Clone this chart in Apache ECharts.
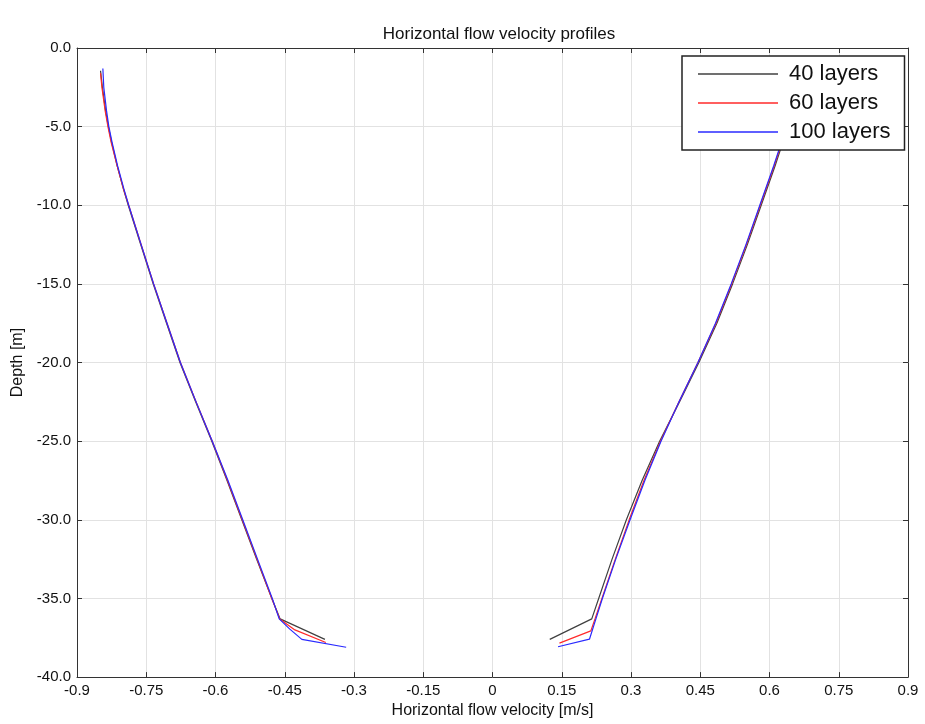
<!DOCTYPE html>
<html><head><meta charset="utf-8">
<script src="https://cdn.jsdelivr.net/npm/echarts@6/dist/echarts.min.js"></script>
<style>html,body{margin:0;padding:0;background:#fff}#c{width:925px;height:724px}</style>
</head><body><div id="c"></div>
<script>
const seriesNames = ['40 layers', '60 layers', '100 layers'];
const seriesColors = ['#404040', '#ff2a2a', '#2a2aff'];

// Left branch (negative velocity)
const depth40L = [-1.45, -2.5, -4, -5, -6, -7.5, -9, -10, -12.5, -15, -17.5, -20, -22.5, -25, -27.5, -30, -32.5, -35, -36.3, -37.6];
const vel40L   = [-0.849, -0.845, -0.838, -0.832, -0.825, -0.813, -0.799, -0.789, -0.762, -0.735, -0.706, -0.677, -0.643, -0.608, -0.575, -0.543, -0.511, -0.478, -0.460, -0.363];
const depth60L = [-1.6, -2.5, -4, -5, -6, -7.5, -9, -10, -12.5, -15, -17.5, -20, -22.5, -25, -27.5, -30, -32.5, -35, -36.3, -37.0, -37.8];
const vel60L   = [-0.849, -0.846, -0.839, -0.833, -0.826, -0.813, -0.799, -0.788, -0.761, -0.734, -0.705, -0.676, -0.642, -0.607, -0.574, -0.542, -0.510, -0.478, -0.461, -0.428, -0.361];
const depth100L = [-1.3, -2.5, -4, -5, -6, -7.5, -9, -10, -12.5, -15, -17.5, -20, -22.5, -25, -27.5, -30, -32.5, -35, -36.3, -36.95, -37.6, -38.1];
const vel100L   = [-0.844, -0.842, -0.836, -0.831, -0.824, -0.812, -0.798, -0.788, -0.761, -0.734, -0.705, -0.676, -0.642, -0.607, -0.573, -0.541, -0.509, -0.477, -0.462, -0.439, -0.413, -0.317];

// Right branch (positive velocity)
const depth40R = [-1.5, -3, -5, -7.5, -10, -12.5, -15, -17.5, -20, -22.5, -25, -27.5, -30, -32.5, -35, -36.3, -37.6];
const vel40R   = [0.674, 0.660, 0.640, 0.612, 0.582, 0.552, 0.520, 0.486, 0.447, 0.405, 0.362, 0.324, 0.290, 0.259, 0.230, 0.215, 0.124];
const depth60R = [-1.5, -3, -5, -7.5, -10, -12.5, -15, -17.5, -20, -22.5, -25, -27.5, -30, -32.5, -35, -36.3, -37.06, -37.84];
const vel60R   = [0.672, 0.658, 0.638, 0.610, 0.580, 0.550, 0.518, 0.484, 0.445, 0.404, 0.364, 0.328, 0.296, 0.266, 0.237, 0.222, 0.213, 0.145];
const depth100R = [-1.3, -3, -5, -7.5, -10, -12.5, -15, -17.5, -20, -22.5, -25, -27.5, -30, -32.5, -35, -36.3, -37.59, -38.07];
const vel100R   = [0.673, 0.657, 0.637, 0.609, 0.579, 0.549, 0.517, 0.483, 0.445, 0.404, 0.365, 0.330, 0.298, 0.267, 0.238, 0.224, 0.210, 0.142];

const xMin = -0.9, xMax = 0.9, xStep = 0.15;
const yMin = -40, yMax = 0, yStep = 5;

function pairs(v, d) { return v.map((x, i) => [x, d[i]]); }
const branches = [
  [pairs(vel40L, depth40L), pairs(vel40R, depth40R)],
  [pairs(vel60L, depth60L), pairs(vel60R, depth60R)],
  [pairs(vel100L, depth100L), pairs(vel100R, depth100R)]
];

const FONT = 'Liberation Sans, Arial, sans-serif';
const series = [];
branches.forEach((b, i) => {
  b.forEach(data => {
    series.push({
      name: seriesNames[i], type: 'line', data: data, showSymbol: false, symbol: 'none',
      lineStyle: { color: seriesColors[i], width: 1.2 }, itemStyle: { color: seriesColors[i] },
      xAxisIndex: 0, yAxisIndex: 0, animation: false, z: 2 + i
    });
  });
});

const gridLine = { show: true, lineStyle: { color: '#e2e2e2', width: 1 } };
const chart = echarts.init(document.getElementById('c'), null, { renderer: 'canvas' });
chart.setOption({
  animation: false,
  backgroundColor: '#fff',
  title: {
    text: 'Horizontal flow velocity profiles', left: 494, top: 21, textAlign: 'center',
    textStyle: { fontFamily: FONT, fontSize: 17, fontWeight: 'normal', color: '#111' }
  },
  grid: { left: 77, right: 17, top: 48, bottom: 46, containLabel: false },
  legend: {
    orient: 'vertical', left: 682, top: 56,
    data: seriesNames.map((n, i) => ({ name: n, icon: 'rect', itemStyle: { color: seriesColors[i] } })),
    itemWidth: 80, itemHeight: 1.6, itemGap: 7,
    padding: [7, 14, 7, 16],
    borderColor: '#222', borderWidth: 1.5, backgroundColor: '#fff',
    textStyle: { fontFamily: FONT, fontSize: 22, color: '#111', lineHeight: 22, padding: [0, 0, 0, 6] },
    z: 10
  },
  xAxis: [{
    type: 'value', position: 'bottom', min: xMin, max: xMax, interval: xStep,
    name: 'Horizontal flow velocity [m/s]', nameLocation: 'middle', nameGap: 24,
    nameTextStyle: { fontFamily: FONT, fontSize: 16, color: '#111' },
    axisLine: { show: true, onZero: false, lineStyle: { color: '#333', width: 1 } },
    axisTick: { show: true, inside: true, length: 5, lineStyle: { color: '#333' } },
    axisLabel: { fontFamily: FONT, fontSize: 15, color: '#111', margin: 6,
      formatter: v => String(+v.toFixed(2)) },
    splitLine: gridLine
  }, {
    type: 'value', position: 'top', min: xMin, max: xMax, interval: xStep,
    axisLine: { show: true, onZero: false, lineStyle: { color: '#333', width: 1 } },
    axisTick: { show: true, inside: true, length: 5, lineStyle: { color: '#333' } },
    axisLabel: { show: false }, splitLine: { show: false }
  }],
  yAxis: [{
    type: 'value', position: 'left', min: yMin, max: yMax, interval: yStep,
    name: 'Depth [m]', nameLocation: 'middle', nameGap: 50, nameRotate: 90,
    nameTextStyle: { fontFamily: FONT, fontSize: 16, color: '#111' },
    axisLine: { show: true, onZero: false, lineStyle: { color: '#333', width: 1 } },
    axisTick: { show: true, inside: true, length: 5, lineStyle: { color: '#333' } },
    axisLabel: { fontFamily: FONT, fontSize: 15, color: '#111', margin: 6,
      formatter: v => v.toFixed(1) },
    splitLine: gridLine
  }, {
    type: 'value', position: 'right', min: yMin, max: yMax, interval: yStep,
    axisLine: { show: true, onZero: false, lineStyle: { color: '#333', width: 1 } },
    axisTick: { show: true, inside: true, length: 5, lineStyle: { color: '#333' } },
    axisLabel: { show: false }, splitLine: { show: false }
  }],
  series: series
});
</script>
</body></html>
